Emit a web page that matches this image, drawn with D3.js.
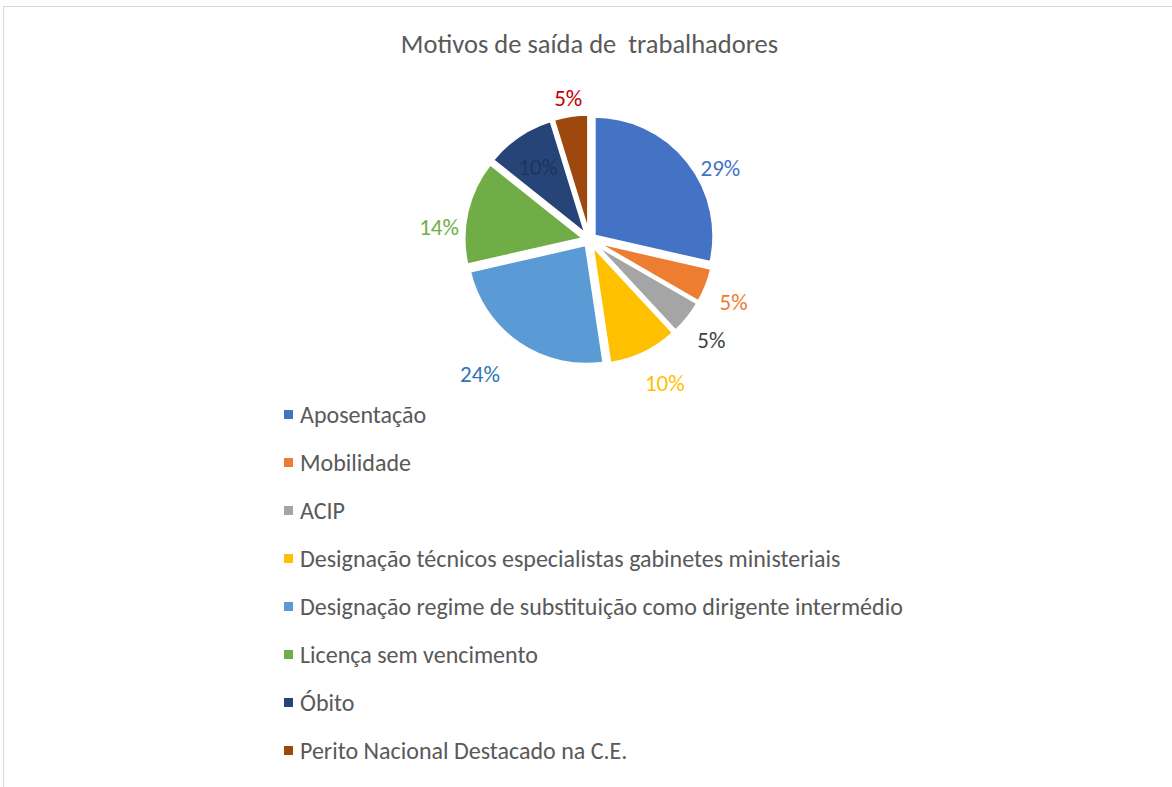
<!DOCTYPE html>
<html>
<head>
<meta charset="utf-8">
<script src="https://cdn.jsdelivr.net/npm/d3@7"></script>
<style>
  body { margin: 0; background: #fff; }
  svg text { font-family: Calibri, Carlito, Lato, sans-serif; }
</style>
</head>
<body>
<svg id="chart" width="1172" height="787"></svg>
<script>
// chart data
var categories = [
  "Aposentação",
  "Mobilidade",
  "ACIP",
  "Designação técnicos especialistas gabinetes ministeriais",
  "Designação regime de substituição como dirigente intermédio",
  "Licença sem vencimento",
  "Óbito",
  "Perito Nacional Destacado na C.E."
];
var counts = [6, 1, 1, 2, 5, 3, 2, 1];
var title = "Motivos de saída de  trabalhadores";

var colors = ["#4472C4", "#ED7D31", "#A5A5A5", "#FFC000", "#5B9BD5", "#70AD47", "#264478", "#9E480E"];
var labelColors = ["#4472C4", "#ED7D31", "#404040", "#FFC000", "#2E75B6", "#70AD47", "#1C3462", "#C00000"];
// best-fit label placement (distance from centre, angle nudge in degrees)
var labelDist = [149, 157, 158, 162, 173, 151, 89, 143];
var labelNudge = [10, 2, 1, -2, 5, -8, -1, 0];

var svg = d3.select("#chart"),
    cx = 589.5, cy = 239.7,
    radius = 119.6,
    explode = 6;

// chart area border
svg.append("rect")
  .attr("x", 3.5).attr("y", 6.5)
  .attr("width", 1300).attr("height", 900)
  .attr("fill", "none")
  .attr("stroke", "#D9D9D9");

svg.append("text")
  .attr("x", cx).attr("y", 44)
  .attr("text-anchor", "middle")
  .attr("dy", "0.35em")
  .attr("fill", "#595959")
  .style("font-size", "26.5px")
  .style("white-space", "pre")
  .text(title);

var total = d3.sum(counts);
var pie = d3.pie().sort(null).value(function(d){ return d; });
var arcs = pie(counts);
var arc = d3.arc().innerRadius(0).outerRadius(radius);

var g = svg.append("g").attr("transform", "translate(" + cx + "," + cy + ")");

g.selectAll("path.slice")
  .data(arcs)
  .enter()
  .append("path")
  .attr("class", "slice")
  .attr("d", arc)
  .attr("fill", function(d, i){ return colors[i]; })
  .attr("stroke", "#fff")
  .attr("stroke-width", 3)
  .attr("stroke-linejoin", "miter")
  .attr("transform", function(d){
    var a = (d.startAngle + d.endAngle) / 2;
    return "translate(" + (explode * Math.sin(a)) + "," + (-explode * Math.cos(a)) + ")";
  });

g.selectAll("text.pct")
  .data(arcs)
  .enter()
  .append("text")
  .attr("class", "pct")
  .attr("text-anchor", "middle")
  .attr("dy", "0.35em")
  .attr("fill", function(d, i){ return labelColors[i]; })
  .style("font-size", "23px")
  .attr("x", function(d, i){
    var a = (d.startAngle + d.endAngle) / 2 + labelNudge[i] * Math.PI / 180;
    return labelDist[i] * Math.sin(a);
  })
  .attr("y", function(d, i){
    var a = (d.startAngle + d.endAngle) / 2 + labelNudge[i] * Math.PI / 180;
    return -labelDist[i] * Math.cos(a);
  })
  .text(function(d){ return d3.format(".0%")(d.value / total); });

// legend
var legendY = d3.scalePoint()
  .domain(categories)
  .range([414.5, 750.5]);

var legend = svg.append("g").attr("class", "legend");
var item = legend.selectAll("g.item")
  .data(categories)
  .enter()
  .append("g")
  .attr("class", "item")
  .attr("transform", function(d){ return "translate(284," + legendY(d) + ")"; });

item.append("rect")
  .attr("x", 0).attr("y", -4.5)
  .attr("width", 9).attr("height", 9)
  .attr("fill", function(d, i){ return colors[i]; });

item.append("text")
  .attr("x", 16)
  .attr("dy", "0.35em")
  .attr("fill", "#595959")
  .style("font-size", "24px")
  .text(function(d){ return d; });
</script>
</body>
</html>
